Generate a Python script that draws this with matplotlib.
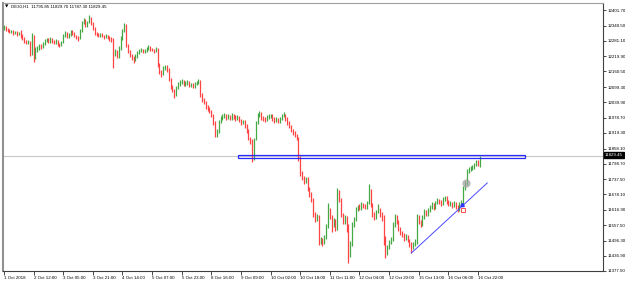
import matplotlib
matplotlib.use("Agg")
import matplotlib.pyplot as plt
from matplotlib.patches import Rectangle
import numpy as np

symbol_header = "DE30,H1  11795.85 11829.70 11787.30 11829.45"

closes = [12335, 12328, 12322, 12318, 12320, 12312, 12315, 12308, 12310, 12305,
          12290, 12280, 12275, 12278, 12230, 12300, 12215, 12245, 12250, 12262,
          12258, 12270, 12282, 12285, 12278, 12288, 12280, 12275, 12282, 12270,
          12265, 12275, 12300, 12310, 12295, 12305, 12318, 12312, 12300, 12295,
          12290, 12320, 12350, 12365, 12340, 12355, 12370, 12350, 12330, 12310,
          12305, 12300, 12305, 12300, 12295, 12300, 12292, 12288, 12285, 12230,
          12240, 12220, 12250, 12290, 12320, 12340, 12265, 12240, 12225, 12215,
          12205, 12220, 12235, 12240, 12245, 12238, 12242, 12250, 12255, 12248,
          12245, 12240, 12248, 12190, 12160, 12150, 12175, 12180, 12170, 12130,
          12100, 12085, 12070, 12095, 12110, 12120, 12125, 12110, 12115, 12120,
          12105, 12110, 12100, 12112, 12118, 12122, 12070, 12050, 12040, 12020,
          12015, 12005, 11990, 11960, 11920, 11925, 11965, 11975, 11985, 11988,
          11980, 11985, 11978, 11990, 11982, 11975, 11980, 11970, 11960, 11965,
          11950, 11930, 11900, 11885, 11850, 11895, 11960, 11990, 11998, 11980,
          11975, 11970, 11980, 11985, 11988, 11975, 11968, 11972, 11965, 11975,
          11985, 11990, 11975, 11960, 11945, 11930, 11920, 11910, 11900, 11820,
          11760, 11745, 11730, 11740, 11700, 11680, 11660, 11600, 11580, 11590,
          11490, 11500, 11490, 11510, 11550, 11620, 11590, 11560, 11575, 11545,
          11690, 11660, 11600, 11570, 11590, 11540, 11440, 11480, 11560, 11580,
          11620, 11630, 11625, 11640, 11635, 11628, 11645, 11690, 11640, 11600,
          11590, 11610, 11620, 11600, 11590, 11500, 11450, 11470, 11490, 11500,
          11560, 11590, 11570, 11545, 11530, 11520, 11505, 11515, 11500, 11480,
          11470, 11485, 11495, 11590, 11570, 11560, 11590, 11610, 11600, 11615,
          11630, 11640, 11625, 11645, 11655, 11650, 11640, 11660, 11665, 11650,
          11640, 11645, 11635, 11645, 11630, 11620, 11640, 11650, 11700, 11720,
          11770, 11775, 11780, 11785, 11795, 11805, 11795.85, 11829.45]

opens = [12330, 12335, 12328, 12322, 12318, 12320, 12312, 12315, 12308, 12310,
         12305, 12290, 12280, 12275, 12278, 12230, 12300, 12215, 12245, 12250,
         12262, 12258, 12270, 12282, 12285, 12278, 12288, 12280, 12275, 12282,
         12270, 12265, 12275, 12300, 12310, 12295, 12305, 12318, 12312, 12300,
         12295, 12290, 12320, 12350, 12365, 12340, 12355, 12370, 12350, 12330,
         12310, 12305, 12300, 12305, 12300, 12295, 12300, 12292, 12288, 12285,
         12230, 12240, 12220, 12250, 12290, 12320, 12340, 12265, 12240, 12225,
         12215, 12205, 12220, 12235, 12240, 12245, 12238, 12242, 12250, 12255,
         12248, 12245, 12240, 12248, 12190, 12160, 12150, 12175, 12180, 12170,
         12130, 12100, 12085, 12070, 12095, 12110, 12120, 12125, 12110, 12115,
         12120, 12105, 12110, 12100, 12112, 12118, 12122, 12070, 12050, 12040,
         12020, 12015, 12005, 11990, 11960, 11920, 11925, 11965, 11975, 11985,
         11988, 11980, 11985, 11978, 11990, 11982, 11975, 11980, 11970, 11960,
         11965, 11950, 11930, 11900, 11885, 11850, 11895, 11960, 11990, 11998,
         11980, 11975, 11970, 11980, 11985, 11988, 11975, 11968, 11972, 11965,
         11975, 11985, 11990, 11975, 11960, 11945, 11930, 11920, 11910, 11900,
         11820, 11760, 11745, 11730, 11740, 11700, 11680, 11660, 11600, 11580,
         11590, 11490, 11500, 11490, 11510, 11550, 11620, 11590, 11560, 11575,
         11545, 11690, 11660, 11600, 11570, 11590, 11540, 11440, 11480, 11560,
         11580, 11620, 11630, 11625, 11640, 11635, 11628, 11645, 11690, 11640,
         11600, 11590, 11610, 11620, 11600, 11590, 11500, 11450, 11470, 11490,
         11500, 11560, 11590, 11570, 11545, 11530, 11520, 11505, 11515, 11500,
         11480, 11470, 11485, 11495, 11590, 11570, 11560, 11590, 11610, 11600,
         11615, 11630, 11640, 11625, 11645, 11655, 11650, 11640, 11660, 11665,
         11650, 11640, 11645, 11635, 11645, 11630, 11620, 11640, 11650, 11700,
         11720, 11770, 11775, 11780, 11785, 11795, 11805, 11795.85]

highs = [12342, 12338, 12332, 12326, 12325, 12324, 12320, 12318, 12315, 12322,
         12308, 12294, 12285, 12284, 12282, 12312, 12302, 12255, 12262, 12268,
         12270, 12276, 12288, 12292, 12290, 12294, 12292, 12284, 12288, 12285,
         12274, 12282, 12308, 12318, 12314, 12312, 12325, 12324, 12316, 12305,
         12300, 12326, 12358, 12372, 12368, 12360, 12382, 12375, 12355, 12334,
         12316, 12310, 12312, 12310, 12305, 12306, 12304, 12298, 12295, 12290,
         12250, 12246, 12262, 12298, 12328, 12352, 12345, 12270, 12246, 12230,
         12220, 12228, 12242, 12248, 12252, 12250, 12250, 12258, 12264, 12260,
         12254, 12250, 12256, 12252, 12195, 12166, 12182, 12186, 12185, 12175,
         12135, 12106, 12090, 12102, 12118, 12127, 12132, 12128, 12122, 12126,
         12124, 12116, 12114, 12118, 12124, 12130, 12126, 12075, 12056, 12045,
         12028, 12020, 12010, 11994, 11965, 11935, 11972, 11985, 11995, 11996,
         11992, 11992, 11990, 11996, 11995, 11988, 11988, 11984, 11975, 11972,
         11970, 11955, 11935, 11905, 11895, 11900, 11968, 11998, 12004, 12002,
         11986, 11982, 11988, 11992, 11995, 11992, 11980, 11980, 11978, 11982,
         11992, 12000, 11994, 11980, 11966, 11950, 11936, 11926, 11915, 11905,
         11830, 11768, 11752, 11748, 11745, 11706, 11686, 11665, 11610, 11600,
         11598, 11510, 11506, 11518, 11560, 11645, 11626, 11596, 11585, 11580,
         11705, 11695, 11665, 11606, 11598, 11595, 11560, 11495, 11570, 11590,
         11628, 11638, 11640, 11648, 11646, 11642, 11652, 11718, 11700, 11646,
         11610, 11618, 11640, 11626, 11608, 11598, 11515, 11480, 11500, 11512,
         11570, 11600, 11596, 11576, 11552, 11536, 11526, 11522, 11520, 11505,
         11490, 11492, 11502, 11600, 11596, 11578, 11598, 11620, 11616, 11624,
         11638, 11650, 11645, 11652, 11664, 11662, 11656, 11666, 11672, 11670,
         11656, 11652, 11650, 11652, 11650, 11636, 11648, 11658, 11710, 11730,
         11778, 11784, 11788, 11792, 11802, 11812, 11815, 11829.70]

lows = [12322, 12320, 12315, 12310, 12312, 12305, 12306, 12300, 12302, 12290,
        12284, 12272, 12268, 12270, 12222, 12225, 12198, 12210, 12238, 12245,
        12250, 12252, 12265, 12276, 12272, 12272, 12274, 12268, 12270, 12262,
        12258, 12260, 12272, 12295, 12290, 12290, 12300, 12305, 12294, 12288,
        12282, 12286, 12315, 12345, 12335, 12335, 12350, 12344, 12325, 12305,
        12298, 12294, 12296, 12294, 12288, 12290, 12286, 12282, 12278, 12175,
        12220, 12215, 12215, 12245, 12285, 12315, 12255, 12232, 12218, 12205,
        12195, 12200, 12215, 12230, 12235, 12232, 12233, 12238, 12245, 12242,
        12240, 12234, 12236, 12180, 12150, 12138, 12145, 12168, 12160, 12122,
        12092, 12078, 12055, 12065, 12090, 12105, 12112, 12102, 12105, 12108,
        12098, 12100, 12094, 12096, 12106, 12112, 12062, 12042, 12032, 12012,
        12005, 11996, 11982, 11950, 11905, 11905, 11920, 11960, 11970, 11978,
        11972, 11974, 11970, 11972, 11975, 11968, 11970, 11962, 11952, 11954,
        11940, 11920, 11890, 11875, 11805, 11812, 11890, 11955, 11982, 11972,
        11966, 11962, 11965, 11974, 11978, 11968, 11960, 11962, 11958, 11960,
        11970, 11980, 11968, 11952, 11938, 11922, 11912, 11902, 11892, 11810,
        11750, 11735, 11720, 11722, 11690, 11668, 11650, 11590, 11570, 11572,
        11478, 11482, 11474, 11484, 11502, 11545, 11580, 11530, 11550, 11535,
        11540, 11650, 11590, 11560, 11562, 11530, 11410, 11432, 11475, 11552,
        11575, 11612, 11615, 11618, 11626, 11620, 11622, 11640, 11630, 11590,
        11578, 11582, 11605, 11590, 11575, 11480, 11430, 11440, 11462, 11482,
        11495, 11552, 11560, 11535, 11520, 11510, 11496, 11498, 11490, 11470,
        11450, 11462, 11476, 11485, 11560, 11550, 11554, 11582, 11592, 11594,
        11608, 11622, 11618, 11620, 11640, 11642, 11632, 11636, 11652, 11642,
        11632, 11634, 11626, 11628, 11620, 11608, 11612, 11632, 11640, 11695,
        11715, 11762, 11768, 11772, 11778, 11788, 11790, 11787.30]

x_labels = ["1 Oct 2018", "2 Oct 12:00", "3 Oct 05:00", "3 Oct 21:00", "4 Oct 14:00",
            "5 Oct 07:00", "5 Oct 23:00", "8 Oct 16:00", "9 Oct 09:00", "10 Oct 02:00",
            "10 Oct 18:00", "11 Oct 11:00", "12 Oct 04:00", "12 Oct 20:00",
            "15 Oct 13:00", "16 Oct 06:00", "16 Oct 22:00"]
bars_per_label = 16

y_ticks = [12401.70, 12340.50, 12281.10, 12219.90, 12160.50, 12099.30, 12039.90,
           11978.70, 11919.30, 11858.10, 11798.70, 11737.50, 11678.10, 11616.90,
           11557.50, 11496.30, 11436.90, 11377.50]
bid_price = 11829.45

zone_start, zone_end = 126.3, 281.3
zone_low, zone_high = 11821.0, 11833.0
trend_x = [220, 261]
trend_y = [11448, 11723]
circle_pt = (249.5, 11723)
arrow_pts_x = [247.5, 248.0]
arrow_pts_y = [11637, 11617]

W, H = 625, 282
fig = plt.figure(figsize=(W / 100, H / 100), dpi=100)
fig.patch.set_facecolor("white")
ax = fig.add_axes([3 / W, (H - 271) / H, 600 / W, 268 / H])
ax.set_facecolor("white")

n = len(closes)
idx = np.arange(n)
o = np.array(opens); c = np.array(closes); hi = np.array(highs); lo = np.array(lows)
up = c >= o
green = "#44a844"
red = "#ff4444"
cols = np.where(up, green, red)

ax.axhline(bid_price, color="#c8c8c8", lw=0.8, zorder=1)
ax.vlines(idx, lo, hi, colors=cols, lw=0.9, zorder=3)

zone = Rectangle((zone_start, zone_low), zone_end - zone_start, zone_high - zone_low,
                 fill=False, edgecolor="#2a2aff", lw=0.9, zorder=4)
ax.add_patch(zone)
ax.plot(trend_x, trend_y, color="#4a4aff", lw=0.7, zorder=4)
ax.plot([circle_pt[0]], [circle_pt[1]], "o", ms=6, color="#a0a0a0", alpha=0.7,
        mec="none", zorder=5)
ax.plot(arrow_pts_x[:1], arrow_pts_y[:1], marker=(3, 0, 0), ms=3, color="#3030ff",
        zorder=6)
ax.plot(arrow_pts_x[1:], arrow_pts_y[1:], "s", ms=2.5, mfc="none", mec="#ff3030",
        mew=0.6, zorder=6)

ax.set_xlim(-0.5, 323.5)
ax.set_ylim(11377.5, 12429.2)

fam = ["Liberation Sans", "DejaVu Sans"]
fs = 3.2
ax.set_xticks(np.arange(len(x_labels)) * bars_per_label)
ax.set_xticklabels(x_labels, ha="left", fontsize=fs, family=fam)
ax.tick_params(axis="x", direction="out", length=3, width=0.5, pad=0.5, colors="#000000")
ax.yaxis.tick_right()
ax.set_yticks(y_ticks)
ax.set_yticklabels([f"{v:.2f}" for v in y_ticks], fontsize=fs, family=fam)
ax.tick_params(axis="y", direction="out", length=2, width=0.5, pad=1.0)

for s in ["top", "bottom", "right"]:
    ax.spines[s].set_color("#404040")
    ax.spines[s].set_linewidth(0.8)
ax.spines["left"].set_color("#909090")
ax.spines["left"].set_linewidth(1.5)
ax.spines["top"].set_color("#a0a0a0")

ax.text(605 / W, 1 - 155 / H, f"{bid_price:.2f}", transform=fig.transFigure,
        fontsize=fs, family=fam, color="white", va="center", ha="left",
        bbox=dict(boxstyle="square,pad=0.15", fc="black", ec="black"), zorder=10)

fig.text(5 / W, 1 - 7 / H, "\u25bc", fontsize=3.2, family=["DejaVu Sans"], va="center")
fig.text(11 / W, 1 - 7 / H, symbol_header, fontsize=fs, family=fam, va="center")

fig.savefig("out.png", dpi=100, facecolor="white")
